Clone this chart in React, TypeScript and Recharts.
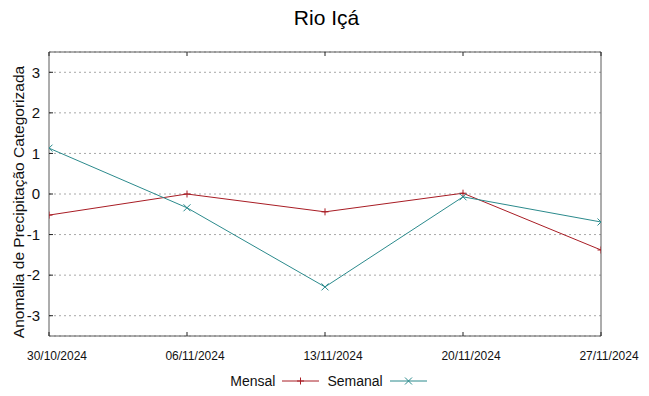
import React from "react";
import { CartesianGrid, Line, LineChart, XAxis, YAxis } from "recharts";

const dates = ["30/10/2024", "06/11/2024", "13/11/2024", "20/11/2024", "27/11/2024"];
const mensal = [-0.52, 0.0, -0.44, 0.02, -1.38];
const semanal = [1.13, -0.34, -2.29, -0.07, -0.69];
const yTicks = [-3, -2, -1, 0, 1, 2, 3];

const W = 649;
const H = 396;
const FONT = "'Liberation Sans', Arial, sans-serif";
const AXIS = "#5a5a5a";
const TICK = 4;

const data = dates.map((d, i) => ({ i, date: d, mensal: mensal[i], semanal: semanal[i] }));
const xTicks = dates.map((_, i) => i);

type Marker = "plus" | "cross";

const series: { key: "mensal" | "semanal"; name: string; color: string; marker: Marker }[] = [
  { key: "mensal", name: "Mensal", color: "#a81c24", marker: "plus" },
  { key: "semanal", name: "Semanal", color: "#2b8a8c", marker: "cross" },
];

function markerPath(kind: Marker, cx: number, cy: number, r = 3.5) {
  if (kind === "plus") return `M${cx - r},${cy}H${cx + r}M${cx},${cy - r}V${cy + r}`;
  return `M${cx - r},${cy - r}L${cx + r},${cy + r}M${cx - r},${cy + r}L${cx + r},${cy - r}`;
}

function makeDot(kind: Marker, color: string) {
  return (p: any) => {
    if (p.cx == null || p.cy == null) return <g key={p.index} />;
    return <path key={p.index} d={markerPath(kind, p.cx, p.cy)} stroke={color} strokeWidth={1} fill="none" />;
  };
}

// tick renderers: gnuplot draws short ticks pointing into the plot
const X_MARGIN = 15;
function BottomTick(p: any) {
  const axisY = p.y - X_MARGIN;
  return (
    <g>
      <line x1={p.x} y1={axisY} x2={p.x} y2={axisY - TICK} stroke="#222" />
      <text x={p.x} y={p.y} dx={8} dy="0.71em" textAnchor="middle" fontSize={12} fill="#111" fontFamily={FONT}>
        {dates[p.payload.value]}
      </text>
    </g>
  );
}

function TopTick(p: any) {
  return <line x1={p.x} y1={p.y} x2={p.x} y2={p.y + TICK} stroke="#222" />;
}

const Y_MARGIN = 9;
function LeftTick(p: any) {
  const axisX = p.x + Y_MARGIN;
  return (
    <g>
      <line x1={axisX} y1={p.y} x2={axisX + TICK} y2={p.y} stroke="#222" />
      <text x={p.x} y={p.y} dy="0.355em" textAnchor="end" fontSize={15} fill="#111" fontFamily={FONT}>
        {p.payload.value}
      </text>
    </g>
  );
}

function RightTick(p: any) {
  return <line x1={p.x} y1={p.y} x2={p.x - TICK} y2={p.y} stroke="#222" />;
}

function LegendRow() {
  return (
    <div
      style={{
        position: "absolute",
        left: 0,
        top: 372,
        width: W,
        display: "flex",
        justifyContent: "center",
        alignItems: "center",
        fontFamily: FONT,
        fontSize: 14,
        color: "#111",
        paddingLeft: 8,
      }}
    >
      {series.map((s) => (
        <div key={s.key} style={{ display: "flex", alignItems: "center", marginRight: 8 }}>
          <span>{s.name}</span>
          <svg width={37} height={18} style={{ marginLeft: 7 }}>
            <line x1={0} y1={9} x2={37} y2={9} stroke={s.color} strokeWidth={1} />
            <path d={markerPath(s.marker, 18.5, 9)} stroke={s.color} strokeWidth={1} fill="none" />
          </svg>
        </div>
      ))}
    </div>
  );
}

export default function App() {
  return (
    <div style={{ position: "absolute", left: 0, top: 0, width: W, height: H, background: "#fff" }}>
      <div
        style={{
          position: "absolute",
          left: 0,
          top: 6,
          width: W,
          textAlign: "center",
          fontFamily: FONT,
          fontSize: 21,
          color: "#000",
          paddingLeft: 2,
        }}
      >
        Rio Içá
      </div>
      <svg style={{ position: "absolute", left: 0, top: 0, pointerEvents: "none" }} width={40} height={H}>
        <text
          x={0}
          y={0}
          transform="translate(24,202) rotate(-90)"
          textAnchor="middle"
          fontFamily={FONT}
          fontSize={15.5}
          fill="#111"
        >
          Anomalia de Precipitação Categorizada
        </text>
      </svg>
      <LineChart
        width={W}
        height={H}
        data={data}
        margin={{ top: 51, right: 47, bottom: 30, left: 0 }}
        style={{ fontFamily: FONT, position: "absolute", left: 0, top: 0 }}
      >
        <CartesianGrid
          horizontal
          vertical={false}
          stroke="#a8a8a8"
          strokeDasharray="2 3"
          yAxisId="l"
          xAxisId="b"
        />
        <XAxis
          xAxisId="b"
          dataKey="i"
          type="number"
          domain={[0, 4]}
          ticks={xTicks}
          interval={0}
          height={30}
          tickSize={0}
          tickMargin={X_MARGIN}
          tickLine={false}
          axisLine={{ stroke: AXIS }}
          tick={BottomTick}
          allowDataOverflow
        />
        <XAxis
          xAxisId="t"
          orientation="top"
          dataKey="i"
          type="number"
          domain={[0, 4]}
          ticks={xTicks}
          interval={0}
          height={1}
          tickSize={0}
          tickMargin={0}
          tickLine={false}
          tick={TopTick}
          axisLine={{ stroke: AXIS }}
        />
        <YAxis
          yAxisId="l"
          type="number"
          domain={[-3.5, 3.5]}
          ticks={yTicks}
          interval={0}
          width={49}
          tickSize={0}
          tickMargin={Y_MARGIN}
          tickLine={false}
          axisLine={{ stroke: AXIS }}
          tick={LeftTick}
          allowDataOverflow
        />
        <YAxis
          yAxisId="r"
          orientation="right"
          type="number"
          domain={[-3.5, 3.5]}
          ticks={yTicks}
          interval={0}
          width={1}
          tickSize={0}
          tickMargin={0}
          tickLine={false}
          tick={RightTick}
          axisLine={{ stroke: AXIS }}
        />
        {series.map((s) => (
          <Line
            key={s.key}
            xAxisId="b"
            yAxisId="l"
            type="linear"
            dataKey={s.key}
            name={s.name}
            stroke={s.color}
            strokeWidth={1}
            dot={makeDot(s.marker, s.color)}
            activeDot={false}
            isAnimationActive={false}
          />
        ))}
      </LineChart>
      <LegendRow />
    </div>
  );
}
